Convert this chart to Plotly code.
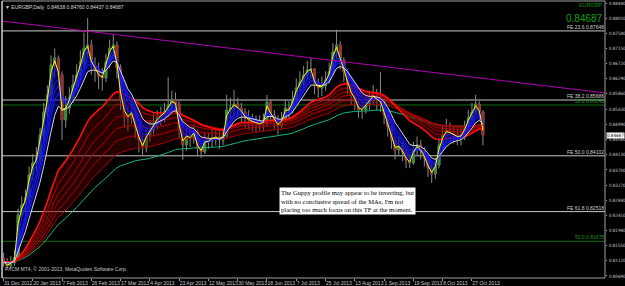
import plotly.graph_objects as go
import pandas as pd

# ---------------- data (EURGBP daily; one entry ~ two daily bars) ----------------
closes = [0.81090, 0.80976, 0.81061, 0.81203, 0.82423, 0.82707, 0.82906, 0.83559, 0.83899, 0.84041,
          0.84694, 0.85347, 0.85829, 0.86680, 0.86879, 0.86397, 0.85120, 0.85460, 0.85744, 0.86113,
          0.86397, 0.86766, 0.87163, 0.87248, 0.86680, 0.86539, 0.86368, 0.86311, 0.86766, 0.87163,
          0.87248, 0.86595, 0.85687, 0.85261, 0.85176, 0.85347, 0.84892, 0.84552, 0.84325, 0.84694,
          0.84836, 0.85006, 0.85176, 0.85261, 0.85347, 0.85517, 0.85687, 0.85574, 0.84836, 0.84410,
          0.84694, 0.84609, 0.84779, 0.84325, 0.84211, 0.84552, 0.84524, 0.84609, 0.84637, 0.84552,
          0.84665, 0.85403, 0.85460, 0.85574, 0.85460, 0.85347, 0.85176, 0.85120, 0.85063, 0.85034,
          0.85006, 0.85063, 0.85630, 0.85261, 0.85120, 0.84949, 0.85120, 0.85460, 0.85403, 0.85687,
          0.86028, 0.86198, 0.86397, 0.86539, 0.86567, 0.86113, 0.86028, 0.86084, 0.86255, 0.86482,
          0.87049, 0.87248, 0.86822, 0.86482, 0.86113, 0.85829, 0.85687, 0.85403, 0.85403, 0.85574,
          0.85687, 0.85829, 0.85687, 0.85630, 0.85261, 0.84921, 0.84552, 0.84268, 0.84382, 0.84211,
          0.83984, 0.83899, 0.84268, 0.84410, 0.84240, 0.84041, 0.83757, 0.83587, 0.83842, 0.84410,
          0.84694, 0.84836, 0.84751, 0.84694, 0.84637, 0.84665, 0.84892, 0.85176, 0.85347, 0.85574,
          0.85347, 0.84687]
highs = [0.81350, 0.81200, 0.81250, 0.81420, 0.82600, 0.82950, 0.83150, 0.83800, 0.84150, 0.84350,
         0.84900, 0.85600, 0.86100, 0.86950, 0.87150, 0.86950, 0.86500, 0.85800, 0.86050, 0.86400,
         0.86700, 0.87100, 0.87600, 0.88010, 0.87400, 0.86900, 0.86750, 0.86600, 0.87000, 0.87400,
         0.87550, 0.87350, 0.86700, 0.85800, 0.85500, 0.85700, 0.85400, 0.85000, 0.84700, 0.84900,
         0.85100, 0.85300, 0.85400, 0.85500, 0.85600, 0.86340, 0.85950, 0.85900, 0.85650, 0.84950,
         0.84900, 0.84900, 0.85000, 0.84850, 0.84500, 0.84750, 0.84750, 0.84850, 0.84900, 0.84800,
         0.84900, 0.85830, 0.85750, 0.85970, 0.85750, 0.85600, 0.85450, 0.85400, 0.85300, 0.85250,
         0.85250, 0.85300, 0.85830, 0.85700, 0.85400, 0.85250, 0.85350, 0.85700, 0.85650, 0.85950,
         0.86300, 0.86500, 0.86650, 0.86800, 0.86880, 0.86600, 0.86300, 0.86350, 0.86500, 0.86750,
         0.87300, 0.87680, 0.87350, 0.86900, 0.86550, 0.86150, 0.85950, 0.85750, 0.85650, 0.85800,
         0.85950, 0.86110, 0.86000, 0.86480, 0.85750, 0.85350, 0.85000, 0.84650, 0.84650, 0.84500,
         0.84300, 0.84150, 0.84500, 0.84650, 0.84550, 0.84350, 0.84100, 0.83850, 0.84050, 0.84600,
         0.84950, 0.85150, 0.85050, 0.84950, 0.84900, 0.84900, 0.85100, 0.85400, 0.85600, 0.85830,
         0.85650, 0.85400]
lows = [0.80950, 0.80880, 0.80900, 0.80980, 0.81150, 0.82250, 0.82500, 0.82800, 0.83400, 0.83650,
        0.83900, 0.84500, 0.85200, 0.85700, 0.86300, 0.86100, 0.84550, 0.84900, 0.85300, 0.85600,
        0.85950, 0.86250, 0.86600, 0.86900, 0.86400, 0.86200, 0.86000, 0.85950, 0.86200, 0.86600,
        0.86900, 0.86300, 0.85400, 0.84900, 0.84800, 0.85000, 0.84600, 0.84200, 0.84130, 0.84200,
        0.84500, 0.84700, 0.84850, 0.84950, 0.85050, 0.85200, 0.85350, 0.85300, 0.84600, 0.83990,
        0.84250, 0.84350, 0.84450, 0.84100, 0.84040, 0.84150, 0.84300, 0.84350, 0.84400, 0.84300,
        0.84400, 0.84600, 0.85150, 0.85250, 0.85200, 0.85050, 0.84900, 0.84850, 0.84800, 0.84750,
        0.84800, 0.84800, 0.84950, 0.85000, 0.84850, 0.84700, 0.84850, 0.85050, 0.85150, 0.85300,
        0.85600, 0.85900, 0.86050, 0.86250, 0.86300, 0.85850, 0.85750, 0.85800, 0.85950, 0.86150,
        0.86400, 0.86850, 0.86550, 0.86200, 0.85850, 0.85550, 0.85400, 0.85180, 0.85150, 0.85300,
        0.85400, 0.85550, 0.85400, 0.85350, 0.85000, 0.84650, 0.84300, 0.84000, 0.84100, 0.83950,
        0.83750, 0.83760, 0.83850, 0.84100, 0.84000, 0.83800, 0.83500, 0.83330, 0.83450, 0.83750,
        0.84300, 0.84500, 0.84500, 0.84450, 0.84400, 0.84400, 0.84550, 0.84800, 0.85050, 0.85250,
        0.85100, 0.84400]
first_open = 0.81200

date_labels = ["31 Dec 2012", "20 Jan 2013", "7 Feb 2013", "26 Feb 2013", "17 Mar 2013", "4 Apr 2013",
               "23 Apr 2013", "12 May 2013", "30 May 2013", "18 Jun 2013", "7 Jul 2013", "25 Jul 2013",
               "13 Aug 2013", "1 Sep 2013", "19 Sep 2013", "8 Oct 2013", "27 Oct 2013"]
price_ticks = [0.88440, 0.88010, 0.87580, 0.87150, 0.86720, 0.86290, 0.85860, 0.85430, 0.84990,
               0.84560, 0.84130, 0.83700, 0.83270, 0.82840, 0.82410, 0.81980, 0.81550, 0.81120, 0.80690]

fe_levels = [0.87648, 0.85686, 0.84102, 0.82518]
fe_labels = ["FE 23.6 0.87648", "FE 38.2 0.85686", "FE 50.0 0.84102", "FE 61.8 0.82518"]
fib_levels = [0.85545, 0.81675]
fib_labels = ["38.2 0.85545", "50.0 0.81675"]

trend_bars = [-1, 329]
trend_prices = [0.87930, 0.85885]

note_text = ("The Guppy profile may appear to be inverting, but<br>"
             "with no conclusive spread of the MAs, I'm not<br>"
             "placing too much focus on this TF at the moment.")
header_text = "\u25BC EURGBP,Daily  0.84638 0.84760 0.84437 0.84687"
footer_text = "FXCM MT4, \u00A9 2001-2013, MetaQuotes Software Corp."
last_price = 0.84687

short_spans = [3, 5, 8, 10, 12, 16]
long_spans = [45, 56, 68, 80, 95, 115]
slow_span = 140

# ---------------- derived ----------------
xs = list(range(0, 2 * len(closes), 2))          # daily bar number (2 days per entry)
opens = [first_open] + closes[:-1]
body_hi = [max(o, c) for o, c in zip(opens, closes)]
body_lo = [min(o, c) for o, c in zip(opens, closes)]
cs = pd.Series(closes)


def ema(n):
    return cs.ewm(span=max(n / 2.0, 1.0), adjust=False).mean().tolist()


tick_bars = list(range(0, 16 * len(date_labels), 16))

fig = go.Figure()

# candles: gray wicks, coloured bodies
fig.add_trace(go.Candlestick(
    x=xs, open=opens, high=highs, low=lows, close=closes, whiskerwidth=0,
    increasing=dict(line=dict(color="#8a8a8a", width=1), fillcolor="#8a8a8a"),
    decreasing=dict(line=dict(color="#8a8a8a", width=1), fillcolor="#8a8a8a"),
    hoverinfo="skip"))
fig.add_trace(go.Candlestick(
    x=xs, open=opens, high=body_hi, low=body_lo, close=closes, whiskerwidth=0,
    increasing=dict(line=dict(color="#3a8a3a", width=1), fillcolor="#3a8a3a"),
    decreasing=dict(line=dict(color="#9a3030", width=1), fillcolor="#9a3030"),
    hoverinfo="skip"))

# slow green MA
fig.add_trace(go.Scatter(x=xs, y=ema(slow_span), mode="lines",
                         line=dict(color="#19b27a", width=1)))

# long group (red) with fill
long_emas = [ema(n) for n in long_spans]
fig.add_trace(go.Scatter(x=xs, y=long_emas[-1], mode="lines", line=dict(color="#a00000", width=1)))
fig.add_trace(go.Scatter(x=xs, y=long_emas[0], mode="lines", line=dict(color="rgba(0,0,0,0)", width=0),
                         fill="tonexty", fillcolor="rgba(100,0,0,0.4)"))
for vals in long_emas[1:-1]:
    fig.add_trace(go.Scatter(x=xs, y=vals, mode="lines", line=dict(color="#b00000", width=1)))
fig.add_trace(go.Scatter(x=xs, y=long_emas[0], mode="lines", line=dict(color="#ff1010", width=1.6)))

# short group (blue) with fill
short_emas = [ema(n) for n in short_spans]
fig.add_trace(go.Scatter(x=xs, y=short_emas[-1], mode="lines", line=dict(color="rgba(0,0,0,0)", width=0)))
fig.add_trace(go.Scatter(x=xs, y=short_emas[0], mode="lines", line=dict(color="rgba(0,0,0,0)", width=0),
                         fill="tonexty", fillcolor="rgba(0,0,150,0.55)"))
for vals in short_emas[1:-1]:
    fig.add_trace(go.Scatter(x=xs, y=vals, mode="lines", line=dict(color="#1a1aff", width=1)))
fig.add_trace(go.Scatter(x=xs, y=short_emas[-1], mode="lines", line=dict(color="#d8d8d8", width=1)))
fig.add_trace(go.Scatter(x=xs, y=short_emas[0], mode="lines", line=dict(color="#ffff00", width=1)))

# trend line
fig.add_trace(go.Scatter(x=trend_bars, y=trend_prices, mode="lines", line=dict(color="#b000b0", width=1)))

shapes = []
annotations = []
small = dict(family="Liberation Sans", size=5)
axisfont = dict(family="Liberation Sans Narrow, DejaVu Sans Condensed, Liberation Sans", size=4.5)
for lvl, lab in zip(fe_levels, fe_labels):
    shapes.append(dict(type="line", xref="paper", x0=0, x1=1, yref="y", y0=lvl, y1=lvl,
                       line=dict(color="#c8c8c8", width=1), layer="below"))
    annotations.append(dict(xref="paper", x=1, y=lvl, xanchor="right", yanchor="bottom", text=lab,
                            showarrow=False, font=dict(small, color="#d0d0d0"), borderpad=0))
for lvl, lab in zip(fib_levels, fib_labels):
    shapes.append(dict(type="line", xref="paper", x0=0, x1=1, yref="y", y0=lvl, y1=lvl,
                       line=dict(color="#0a6e0a", width=1), layer="below"))
    annotations.append(dict(xref="paper", x=1, y=lvl, xanchor="right", yanchor="bottom", text=lab,
                            showarrow=False, font=dict(small, color="#1a9a1a"), borderpad=0))

# frame
shapes.append(dict(type="rect", xref="paper", yref="paper", x0=0, x1=1, y0=0, y1=1,
                   line=dict(color="#a0a0a0", width=1)))
shapes.append(dict(type="line", xref="paper", yref="paper", x0=0, x1=0, y0=0, y1=1,
                   line=dict(color="#e8e8e8", width=1)))

annotations += [
    dict(xref="paper", yref="paper", x=0.002, y=0.995, xanchor="left", yanchor="top", text=header_text,
         showarrow=False, font=dict(small, color="#d8d8d8")),
    dict(xref="paper", yref="paper", x=0.002, y=0.015, xanchor="left", yanchor="bottom", text=footer_text,
         showarrow=False, font=dict(small, color="#c8c8c8")),
    dict(xref="paper", yref="paper", x=0.998, y=1.0, xanchor="right", yanchor="top", text="EURGBP",
         showarrow=False, font=dict(family="Liberation Sans", size=5.5, color="#0a8a0a"), borderpad=0),
    dict(xref="paper", yref="paper", x=0.998, y=0.962, xanchor="right", yanchor="top",
         text=f"{last_price:.5f}", showarrow=False, borderpad=0,
         font=dict(family="Liberation Sans", size=10, color="#0fa00f")),
    dict(xref="paper", x=1.002, y=last_price, xanchor="left", yanchor="middle", text=f"{last_price:.5f}",
         showarrow=False, bgcolor="#ffffff", font=dict(axisfont, color="#000000"), borderpad=0),
    dict(xref="paper", yref="paper", x=0.459, y=0.329, xanchor="left", yanchor="top", text=note_text,
         align="left", showarrow=False, bgcolor="#ffffff", borderpad=1,
         font=dict(family="Liberation Serif", size=6.6, color="#000000")),
]

fig.update_layout(
    width=625, height=286, margin=dict(l=2, r=20, t=1, b=8, autoexpand=False),
    paper_bgcolor="#000000", plot_bgcolor="#000000", showlegend=False,
    shapes=shapes, annotations=annotations,
    xaxis=dict(range=[-0.8, 328.7], rangeslider=dict(visible=False), showgrid=False, zeroline=False,
               tickvals=tick_bars, ticktext=date_labels, ticks="outside", ticklen=2, tickcolor="#a0a0a0",
               ticklabelposition="outside right", tickangle=0, automargin=False,
               tickfont=dict(small, color="#c8c8c8"), showline=False),
    yaxis=dict(range=[0.80633, 0.88497], side="right", showgrid=False, zeroline=False,
               tickvals=price_ticks, ticktext=[f"{v:.5f}" for v in price_ticks], ticks="outside",
               ticklen=1, tickcolor="#a0a0a0", tickfont=dict(axisfont, color="#c8c8c8"), showline=False,
               ticklabelstandoff=1, automargin=False),
)

fig.write_html("out.html")
